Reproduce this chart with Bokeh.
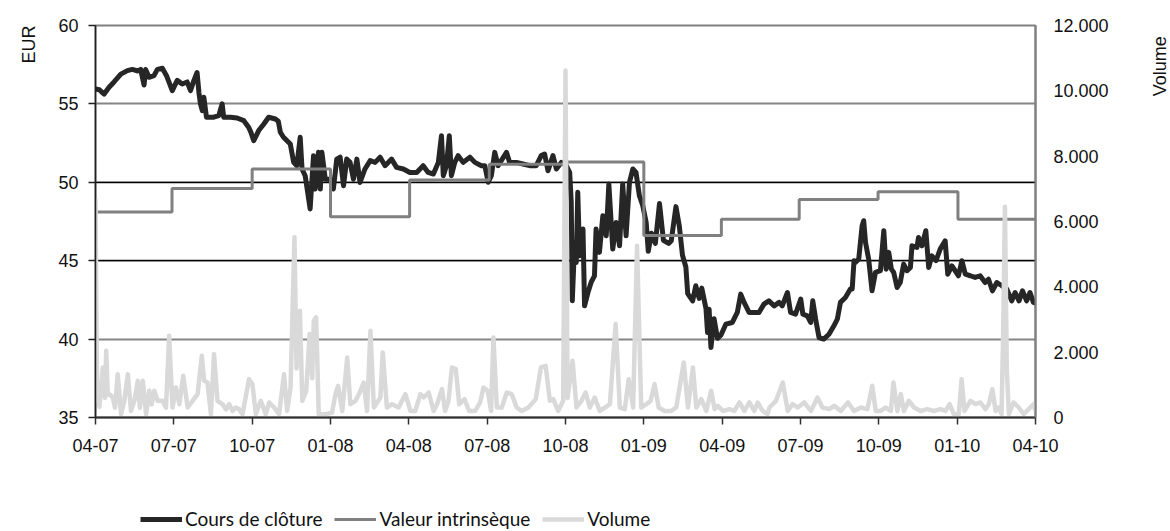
import numpy as np
from bokeh.plotting import figure
from bokeh.layouts import row, column
from bokeh.models import (Range1d, LinearAxis, FixedTicker, Span, Title, Label,
                          Legend, LegendItem)
from bokeh.embed import file_html
from bokeh.resources import INLINE

# ---------------- data (x in months since 1 April 2007) ----------------
month_ticks = [0, 3, 6, 9, 12, 15, 18, 21, 24, 27, 30, 33, 36]
month_labels = ["04-07", "07-07", "10-07", "01-08", "04-08", "07-08", "10-08",
                "01-09", "04-09", "07-09", "10-09", "01-10", "04-10"]
eur_ticks = [35, 40, 45, 50, 55, 60]
vol_ticks = [0, 2000, 4000, 6000, 8000, 10000, 12000]
vol_labels = ["0", "2.000", "4.000", "6.000", "8.000", "10.000", "12.000"]
series_names = ["Cours de clôture", "Valeur intrinsèque", "Volume"]

close_m = [0.0, 0.15, 0.33, 0.52, 0.71, 0.97, 1.22, 1.41, 1.6, 1.73, 1.86, 1.92,
           2.05, 2.24, 2.37, 2.56, 2.72, 2.94, 3.13, 3.32, 3.51, 3.64, 3.77, 3.89,
           3.96, 4.02, 4.09, 4.15, 4.25, 4.53, 4.72, 4.85, 4.91, 5.17, 5.42, 5.68,
           5.87, 5.95, 6.06, 6.25, 6.44, 6.63, 6.89, 7.0, 7.08, 7.2, 7.46, 7.59,
           7.71, 7.84, 7.91, 8.03, 8.22, 8.35, 8.41, 8.54, 8.61, 8.67, 8.8, 8.99,
           9.11, 9.24, 9.37, 9.5, 9.62, 9.75, 9.88, 10.01, 10.13, 10.32, 10.52,
           10.71, 10.9, 11.09, 11.34, 11.53, 11.79, 12.04, 12.3, 12.55, 12.74,
           12.94, 13.13, 13.25, 13.32, 13.44, 13.55, 13.63, 13.76, 13.89, 14.08,
           14.34, 14.53, 14.78, 14.91, 15.04, 15.16, 15.29, 15.42, 15.74, 15.86,
           16.12, 16.37, 16.63, 16.88, 17.07, 17.2, 17.33, 17.52, 17.65, 17.84,
           18.03, 18.16, 18.22, 18.26, 18.35, 18.41, 18.47, 18.54, 18.67, 18.73,
           18.86, 18.98, 19.11, 19.17, 19.3, 19.43, 19.56, 19.66, 19.81, 19.94,
           20.07, 20.19, 20.32, 20.45, 20.58, 20.7, 20.83, 20.96, 21.09, 21.17,
           21.29, 21.44, 21.6, 21.75, 21.95, 22.05, 22.23, 22.36, 22.48, 22.61,
           22.68, 22.87, 22.99, 23.12, 23.22, 23.38, 23.44, 23.5, 23.57, 23.69,
           23.82, 23.95, 24.14, 24.39, 24.58, 24.71, 24.84, 25.03, 25.22, 25.41,
           25.6, 25.79, 25.99, 26.18, 26.3, 26.5, 26.62, 26.81, 27.01, 27.09,
           27.26, 27.39, 27.47, 27.58, 27.71, 27.89, 28.09, 28.28, 28.41, 28.53,
           28.72, 28.91, 28.98, 29.05, 29.1, 29.23, 29.36, 29.42, 29.49, 29.61,
           29.74, 29.87, 30.06, 30.19, 30.28, 30.38, 30.48, 30.57, 30.7, 30.82,
           30.95, 31.08, 31.21, 31.27, 31.46, 31.52, 31.65, 31.8, 31.91, 32.03,
           32.19, 32.35, 32.54, 32.64, 32.8, 33.05, 33.18, 33.31, 33.5, 33.69,
           33.88, 34.07, 34.2, 34.35, 34.52, 34.71, 34.9, 35.09, 35.22, 35.37,
           35.5, 35.66, 35.79, 35.92, 36.0]
close_v = [55.95, 55.9, 55.63, 56.06, 56.4, 56.9, 57.12, 57.2, 57.1, 57.2, 56.2, 57.2,
           56.7, 56.8, 57.2, 57.27, 56.8, 55.85, 56.5, 56.27, 56.4, 55.85, 56.5, 57.0,
           55.74, 55.0, 54.57, 55.42, 54.15, 54.15, 54.25, 55.0, 54.15, 54.15, 54.1, 53.93,
           53.5, 53.2, 52.65, 53.3, 53.7, 54.15, 54.04, 53.9, 53.19, 52.87, 52.44, 51.27,
           51.06, 52.87, 50.85, 50.42, 48.3, 51.7, 49.57, 51.91, 49.57, 51.91, 50.2, 50.2,
           49.57, 51.48, 51.6, 49.78, 51.48, 51.27, 50.2, 51.48, 49.99, 50.85, 51.38,
           51.27, 51.6, 51.06, 51.48, 50.95, 50.85, 50.63, 50.63, 51.06, 50.63,
           50.53, 51.27, 52.97, 50.42, 51.06, 52.97, 50.42, 51.27, 51.7, 51.27,
           51.6, 51.27, 51.06, 51.06, 50.0, 50.42, 51.91, 51.06, 51.91, 51.27,
           51.27, 51.17, 51.06, 51.06, 51.7, 51.8, 50.74, 51.7, 50.85, 51.27,
           51.06, 50.63, 48.72, 42.44, 46.17, 44.89, 49.36, 45.31, 47.02, 42.12,
           42.97, 43.61, 44.04, 47.02, 45.53, 47.87, 46.59, 49.89, 45.74, 47.44,
           45.95, 49.89, 46.59, 50.0, 50.85, 50.63, 49.14, 48.5, 47.44, 45.6,
           46.75, 46.1, 48.65, 46.3, 46.1, 46.27, 48.45, 47.2, 45.35, 44.6,
           42.9, 42.44, 43.4, 42.6, 43.25, 41.95, 40.42, 41.91, 39.46, 41.3,
           40.05, 40.25, 40.95, 41.06, 41.7, 42.87, 42.34, 41.7, 41.7, 41.7,
           42.23, 42.44, 42.12, 42.34, 42.12, 42.97, 41.7, 41.59, 42.55, 41.59,
           41.48, 41.06, 42.44, 41.27, 40.1, 40.0, 40.31, 40.85, 41.27, 42.34,
           42.65, 43.19, 43.2, 45.0, 44.89, 45.1, 47.23, 47.55, 46.17, 45.1,
           43.08, 44.25, 44.36, 46.91, 44.46, 45.53, 44.46, 44.25, 43.29, 43.61,
           44.78, 44.36, 44.57, 45.95, 45.85, 46.48, 45.95, 46.91, 44.57, 45.31,
           45.0, 45.74, 46.27, 44.14, 44.67, 44.04, 45.0, 44.14, 44.04, 43.93,
           44.04, 43.61, 43.82, 43.08, 43.61, 43.4, 43.19, 42.44, 42.97, 42.44,
           43.08, 42.44, 42.97, 42.34, 42.3]

iv_m = [0, 2.93, 6.0, 9.0, 12.03, 15.08, 18.05, 21.0, 23.97, 26.95, 29.97, 33.03, 36]
iv_v = [48.1, 49.6, 50.85, 47.8, 50.15, 51.15, 51.3, 46.6, 47.65, 48.9, 49.4, 47.65, 47.65]

vol_m = [0.0, 0.06, 0.15, 0.28, 0.36, 0.41, 0.47, 0.53, 0.66, 0.75, 0.85, 0.98, 1.1,
         1.24, 1.36, 1.49, 1.62, 1.7, 1.81, 1.94, 2.06, 2.15, 2.25, 2.38, 2.57, 2.7,
         2.82, 2.95, 3.08, 3.21, 3.36, 3.53, 3.72, 3.91, 4.07, 4.16, 4.29, 4.42,
         4.54, 4.67, 4.86, 5.0, 5.12, 5.25, 5.37, 5.5, 5.63, 5.88, 6.01, 6.14,
         6.33, 6.52, 6.65, 6.84, 7.03, 7.22, 7.34, 7.47, 7.62, 7.7, 7.73, 7.83,
         7.92, 8.07, 8.2, 8.3, 8.36, 8.45, 8.55, 8.81, 9.06, 9.19, 9.29, 9.45,
         9.64, 9.76, 9.96, 10.15, 10.27, 10.4, 10.53, 10.66, 10.91, 11.0, 11.16,
         11.36, 11.61, 11.87, 12.06, 12.25, 12.44, 12.57, 12.76, 12.95, 13.08,
         13.27, 13.39, 13.52, 13.65, 13.8, 13.93, 14.13, 14.31, 14.54, 14.73,
         14.86, 15.02, 15.15, 15.24, 15.37, 15.56, 15.75, 15.94, 16.13, 16.32,
         16.58, 16.86, 17.06, 17.24, 17.4, 17.53, 17.72, 17.91, 18.0, 18.08,
         18.13, 18.27, 18.42, 18.61, 18.77, 18.93, 19.12, 19.31, 19.51, 19.7,
         19.92, 20.08, 20.27, 20.42, 20.59, 20.74, 20.9, 21.1, 21.26, 21.41,
         21.57, 21.8, 22.05, 22.24, 22.37, 22.53, 22.69, 22.88, 23.01, 23.2,
         23.39, 23.58, 23.71, 23.83, 24.03, 24.28, 24.47, 24.66, 24.85, 25.04,
         25.23, 25.36, 25.55, 25.74, 25.81, 26.06, 26.32, 26.51, 26.7, 26.89,
         27.14, 27.4, 27.65, 27.84, 28.1, 28.29, 28.54, 28.82, 29.05, 29.31,
         29.56, 29.75, 29.88, 30.07, 30.26, 30.46, 30.56, 30.71, 30.84, 30.96,
         31.15, 31.35, 31.6, 31.85, 32.11, 32.36, 32.55, 32.71, 32.87, 33.06,
         33.17, 33.28, 33.51, 33.7, 33.89, 34.08, 34.21, 34.35, 34.47, 34.59,
         34.7, 34.76, 34.83, 34.9, 34.98, 35.16, 35.36, 35.55, 35.74, 35.93, 36.0]
vol_v = [6700, 800, 330, 1530, 600, 2040, 700, 715, 613, 300, 1327, 100, 500,
         1327, 200, 510, 1123, 300, 1123, 100, 817, 400, 817, 510, 510, 300,
         2500, 306, 919, 408, 1276, 306, 510, 715, 1889, 1123, 1072, 100,
         1940, 510, 408, 250, 408, 200, 306, 250, 100, 1174, 1021, 100,
         510, 100, 460, 306, 100, 1327, 200, 919, 5516, 1500, 2554, 3269,
         510, 817, 2554, 1200, 2962, 3064, 100, 100, 150, 715, 970, 200,
         1838, 408, 510, 817, 1072, 200, 2656, 306, 613, 1991, 306,
         408, 306, 715, 200, 200, 715, 613, 766, 200, 408,
         868, 200, 510, 1531, 1480, 408, 562, 200, 200, 460,
         919, 817, 200, 2451, 306, 306, 766, 715, 306, 200,
         306, 562, 1531, 1582, 510, 562, 200, 510, 10620, 600,
         919, 1736, 306, 510, 766, 306, 613, 200, 306, 408,
         2860, 306, 255, 1174, 306, 5260, 306, 408, 510, 1021,
         306, 200, 200, 306, 919, 1685, 306, 1531, 306, 562,
         200, 817, 255, 357, 200, 255, 200, 460, 200, 460,
         200, 460, 200, 100, 306, 510, 1072, 200, 408, 306,
         460, 200, 613, 306, 255, 357, 200, 460, 200, 306,
         255, 970, 200, 200, 306, 200, 1072, 200, 715, 200,
         510, 306, 200, 255, 200, 255, 200, 408, 100, 100,
         1174, 200, 510, 408, 460, 255, 408, 868, 200, 306,
         100, 2554, 6450, 1500, 100, 460, 306, 100, 255, 408, 200]

TICK_FONT = "Liberation Sans"
C_CLOSE, C_IV, C_VOL = "#262626", "#808080", "#d9d9d9"
W_CLOSE, W_IV, W_VOL = 5, 3, 4.5

# ---------------- main chart ----------------
p = figure(width=1135, height=500, x_range=Range1d(0, 36), y_range=Range1d(35, 60),
           output_backend="svg", toolbar_location=None,
           min_border_left=93, min_border_right=100, min_border_top=25,
           min_border_bottom=83)
p.extra_y_ranges = {"vol": Range1d(0, 12000)}
p.background_fill_color = "white"
p.border_fill_color = "white"
p.outline_line_color = "#808080"
p.outline_line_width = 2

# x axis
p.xaxis.ticker = FixedTicker(ticks=month_ticks, minor_ticks=[])
p.xaxis.major_label_overrides = {t: l for t, l in zip(month_ticks, month_labels)}
p.xaxis.major_tick_out = 7
p.xaxis.major_tick_in = 0
p.xaxis.minor_tick_line_color = None
p.xaxis.axis_line_color = "#303030"
p.xaxis.axis_line_width = 2
p.xaxis.major_tick_line_color = "#303030"
p.xaxis.major_tick_line_width = 1.5
p.xaxis.major_label_standoff = 14
p.xaxis.major_label_text_font = TICK_FONT
p.xaxis.major_label_text_font_size = "18px"
p.xaxis.major_label_text_color = "#111111"

# left axis
p.yaxis.ticker = FixedTicker(ticks=eur_ticks, minor_ticks=[])
p.yaxis.major_tick_out = 7
p.yaxis.major_tick_in = 0
p.yaxis.minor_tick_line_color = None
p.yaxis.axis_line_color = "#202020"
p.yaxis.axis_line_width = 1.5
p.yaxis.major_tick_line_color = "#202020"
p.yaxis.major_tick_line_width = 1.5
p.yaxis.major_label_standoff = 10
p.yaxis.major_label_text_font = TICK_FONT
p.yaxis.major_label_text_font_size = "18px"
p.yaxis.major_label_text_color = "#111111"

# right axis
ax_r = LinearAxis(y_range_name="vol", ticker=FixedTicker(ticks=vol_ticks, minor_ticks=[]))
ax_r.major_label_overrides = {t: l for t, l in zip(vol_ticks, vol_labels)}
ax_r.major_tick_out = 0
ax_r.major_tick_in = 0
ax_r.minor_tick_line_color = None
ax_r.major_tick_line_color = None
ax_r.axis_line_color = "#808080"
ax_r.axis_line_width = 2
ax_r.major_label_standoff = 18
ax_r.major_label_text_font = TICK_FONT
ax_r.major_label_text_font_size = "18px"
ax_r.major_label_text_color = "#111111"
p.add_layout(ax_r, "right")

# grid
p.xgrid.grid_line_color = None
p.ygrid.ticker = FixedTicker(ticks=eur_ticks)
p.ygrid.grid_line_color = "#858585"
p.ygrid.grid_line_width = 2
for loc in (45, 50):
    p.add_layout(Span(location=loc, dimension="width", line_color="#000000",
                      line_width=1.3, level="underlay"))

# series
p.line(close_m, close_v, line_color=C_CLOSE, line_width=W_CLOSE,
       line_join="round", line_cap="round")
p.step(iv_m, iv_v, mode="after", line_color=C_IV, line_width=W_IV)
p.line(vol_m, vol_v, y_range_name="vol", line_color=C_VOL,
       line_width=W_VOL, line_join="round")

# left axis title, aligned to the top
p.add_layout(Title(text="EUR", align="right", text_font=TICK_FONT, text_font_size="18px",
                   text_font_style="normal", text_color="#111111", standoff=33), "left")

# ---------------- right strip holding the "Volume" title ----------------
side = figure(width=35, height=500, x_range=Range1d(0, 35), y_range=Range1d(0, 500),
              output_backend="svg", toolbar_location=None,
              min_border_left=0, min_border_right=0, min_border_top=0, min_border_bottom=0)
side.axis.visible = False
side.grid.visible = False
side.outline_line_color = None
side.add_layout(Label(x=24, y=448, text="Volume", angle=np.pi / 2,
                      text_align="center", text_baseline="middle",
                      text_font=TICK_FONT, text_font_size="18px", text_color="#111111"))

# ---------------- legend strip ----------------
leg = figure(width=1170, height=31, x_range=Range1d(0, 1), y_range=Range1d(0, 1),
             output_backend="svg", toolbar_location=None,
             min_border_left=0, min_border_right=0, min_border_top=0, min_border_bottom=0)
leg.axis.visible = False
leg.grid.visible = False
leg.outline_line_color = None
nan = np.array([np.nan])
g1 = leg.line(nan, nan, line_color=C_CLOSE, line_width=W_CLOSE)
g2 = leg.line(nan, nan, line_color=C_IV, line_width=W_IV)
g3 = leg.line(nan, nan, line_color=C_VOL, line_width=W_VOL)
legend = Legend(items=[LegendItem(label=n, renderers=[g])
                       for n, g in zip(series_names, [g1, g2, g3])],
                orientation="horizontal", location=(140, 1),
                label_text_font="Lato", label_text_font_size="19px",
                label_text_color="#111111",
                glyph_width=42, glyph_height=16, label_height=16,
                label_standoff=3, spacing=12, padding=0, margin=0,
                background_fill_alpha=0, border_line_alpha=0)
leg.add_layout(legend, "center")

layout = column(row(p, side), leg)
open("out.html", "w").write(file_html(layout, INLINE))
